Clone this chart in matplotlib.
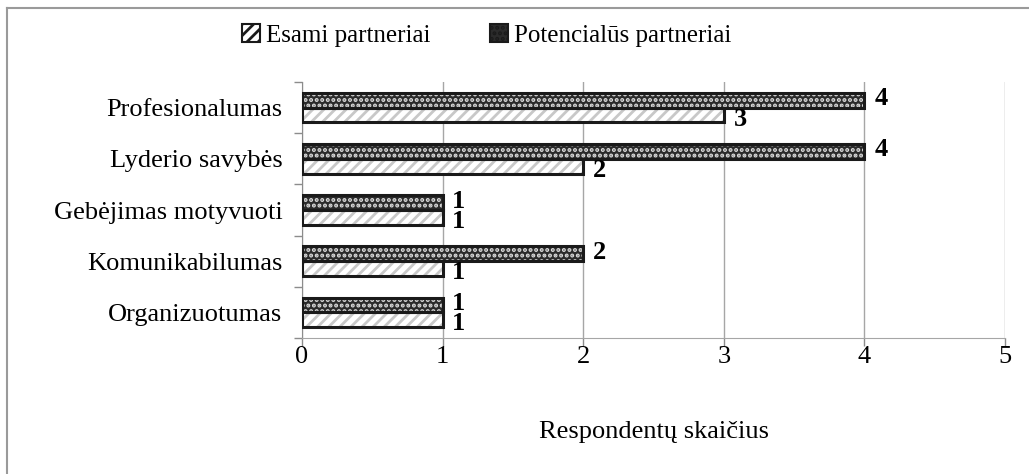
import matplotlib
matplotlib.use("Agg")
import matplotlib.pyplot as plt
from matplotlib.patches import Patch
from matplotlib.lines import Line2D
import numpy as np

plt.rcParams['font.family'] = ['Liberation Serif', 'DejaVu Serif']
plt.rcParams['hatch.linewidth'] = 2.0

categories = ["Organizuotumas", "Komunikabilumas", "Gebėjimas motyvuoti",
              "Lyderio savybės", "Profesionalumas"]
esami = [1, 1, 1, 2, 3]
potencialus = [1, 2, 1, 4, 4]
series_names = ["Esami partneriai", "Potencialūs partneriai"]
x_ticks = [0, 1, 2, 3, 4, 5]
x_label = "Respondentų skaičius"

FS = 19

fig = plt.figure(figsize=(10.29, 4.74), dpi=100)
ax = fig.add_axes([0.2935, 0.2869, 0.6832, 0.5401])

y = np.arange(len(categories))
h = 0.29

# Esami: white with light grey diagonal hatch
ax.barh(y - h / 2, esami, height=h, color="white", hatch="///",
        edgecolor="#c8c8c8", linewidth=0, zorder=3)
ax.barh(y - h / 2, esami, height=h, fill=False, edgecolor="#1a1a1a",
        linewidth=2.2, zorder=4)
# Potencialus: dark with light dotted pattern
ax.barh(y + h / 2, potencialus, height=h, color="#2b2b2b", hatch="...",
        edgecolor="#dcdcdc", linewidth=0, zorder=3)
ax.barh(y + h / 2, potencialus, height=h, fill=False, edgecolor="#1a1a1a",
        linewidth=2.2, zorder=4)

for yi, v in zip(y, esami):
    ax.annotate(str(v), (v, yi - h / 2), xytext=(7, -3), textcoords="offset points",
                ha="left", va="center", fontsize=FS, fontweight="bold", zorder=5)
for yi, v in zip(y, potencialus):
    ax.annotate(str(v), (v, yi + h / 2), xytext=(7, 1), textcoords="offset points",
                ha="left", va="center", fontsize=FS, fontweight="bold", zorder=5)

ax.set_xlim(0, 5)
ax.set_ylim(-0.5, len(categories) - 0.5)
ax.set_xticks(x_ticks)
ax.set_xticklabels([str(t) for t in x_ticks], fontsize=FS)
ax.set_yticks(y)
ax.set_yticklabels(categories, fontsize=FS)
ax.tick_params(axis="y", length=0, pad=14)
ax.set_yticks(np.arange(-0.5, len(categories), 1.0), minor=True)
ax.tick_params(axis="y", which="minor", length=6, color="#8c8c8c", width=1)
ax.tick_params(axis="x", length=6, color="#8c8c8c", width=1, pad=0)
ax.xaxis.grid(True, color="#a6a6a6", linewidth=1)
ax.set_axisbelow(True)
for s in ["top", "right"]:
    ax.spines[s].set_visible(False)
ax.spines["left"].set_color("#8c8c8c")
ax.spines["bottom"].set_color("#a6a6a6")
ax.set_xlabel(x_label, fontsize=FS, labelpad=38)

handles = [
    Patch(facecolor="white", edgecolor="#1a1a1a", hatch="///", linewidth=1.5),
    Patch(facecolor="#2b2b2b", edgecolor="#1a1a1a", hatch="...", linewidth=1.5),
]
fig.legend(handles, series_names, loc="center", bbox_to_anchor=(0.473, 0.925),
           ncol=2, frameon=False, fontsize=18, handlelength=0.7, handleheight=0.7,
           handletextpad=0.25, columnspacing=2.4)

# outer frame (top and left only visible)
fig.add_artist(Line2D([0.0068, 1.0], [0.9821, 0.9821], color="#9a9a9a", linewidth=1.5,
                      transform=fig.transFigure))
fig.add_artist(Line2D([0.0068, 0.0068], [0.0, 0.9821], color="#9a9a9a", linewidth=1.5,
                      transform=fig.transFigure))

fig.savefig("out.png", dpi=100)
